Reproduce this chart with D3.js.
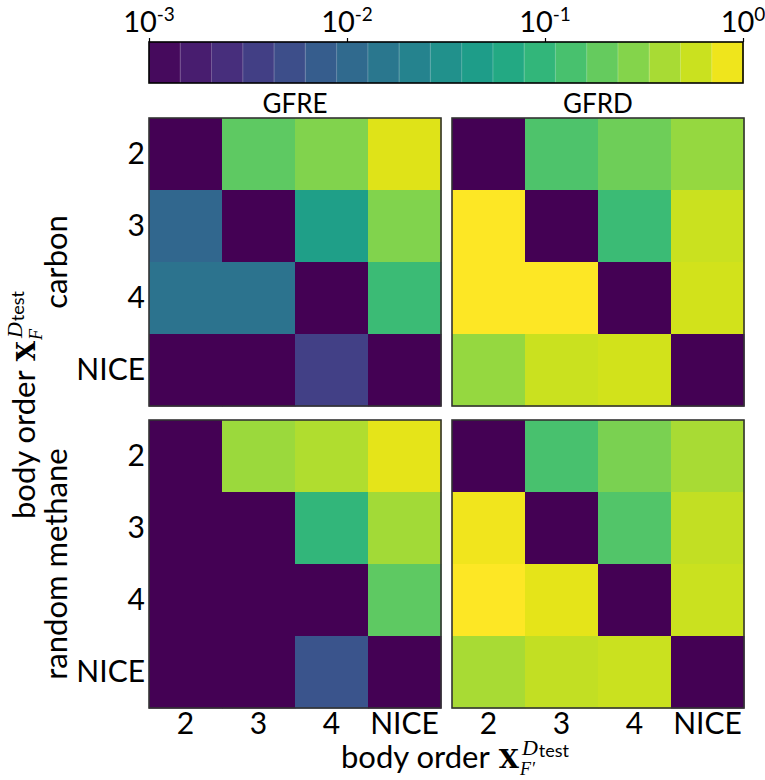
<!DOCTYPE html>
<html>
<head>
<meta charset="utf-8">
<script src="https://cdn.jsdelivr.net/npm/d3@7"></script>
<style>
    body { margin: 0; background: #fff; }
    svg { display: block; font-family: Lato, "Open Sans", sans-serif; }
</style>
</head>
<body>
<svg width="765" height="780"></svg>
<script>
// orders on both axes
var orders = ["2", "3", "4", "NICE"];
var metrics = ["GFRE", "GFRD"];
var datasets = ["carbon", "random methane"];
var cbarTicks = [1e-3, 1e-2, 1e-1, 1];
var cbarExp = ["-3", "-2", "-1", "0"];

// rows = test order, cols = F' order (0 = diagonal, below colour range)
var gfreCarbon = [
    [0, 0.178, 0.269, 0.708],
    [0.0098, 0, 0.048, 0.269],
    [0.0138, 0.0138, 0, 0.110],
    [0, 0, 0.0037, 0]
];
var gfrdCarbon = [
    [0, 0.145, 0.219, 0.331],
    [1.0, 0, 0.110, 0.575],
    [1.0, 1.0, 0, 0.617],
    [0.331, 0.575, 0.617, 0]
];
var gfreMethane = [
    [0, 0.355, 0.437, 0.759],
    [0, 0, 0.095, 0.380],
    [0, 0, 0, 0.178],
    [0, 0, 0.0060, 0]
];
var gfrdMethane = [
    [0, 0.135, 0.251, 0.407],
    [0.871, 0, 0.155, 0.537],
    [1.0, 0.759, 0, 0.575],
    [0.407, 0.537, 0.575, 0]
];

var panels = [
    {row: 0, col: 0, values: gfreCarbon},
    {row: 0, col: 1, values: gfrdCarbon},
    {row: 1, col: 0, values: gfreMethane},
    {row: 1, col: 1, values: gfrdMethane}
];

var svg = d3.select("svg");

var colX = [149, 452];
var rowY = [118, 420];
var pw = 292, ph = 288;

var norm = d3.scaleLog().domain([1e-3, 1]).range([0, 1]).clamp(true);

function cor(v) {
    if (v <= 1e-3) return d3.interpolateViridis(0);
    return d3.interpolateViridis(norm(v));
}

// ---- colorbar ----
var cbX = d3.scaleLog().domain([1e-3, 1]).range([149, 743]);
var cbTop = 42, cbH = 41;
var nBins = 19;
var gCb = svg.append("g");
var bins = d3.range(nBins);
var binW = (743 - 149) / nBins;

gCb.selectAll("rect.bin")
    .data(bins)
    .enter().append("rect")
    .attr("class", "bin")
    .attr("x", function (d) { return 149 + d * binW; })
    .attr("y", cbTop)
    .attr("width", binW + 0.5)
    .attr("height", cbH)
    .attr("fill", function (d) { return d3.interpolateViridis((d + 0.5) / nBins); });

gCb.selectAll("line.sep")
    .data(bins.slice(1))
    .enter().append("line")
    .attr("x1", function (d) { return 149 + d * binW; })
    .attr("x2", function (d) { return 149 + d * binW; })
    .attr("y1", cbTop)
    .attr("y2", cbTop + cbH)
    .attr("stroke", "#fff")
    .attr("stroke-opacity", 0.25)
    .attr("stroke-width", 1);

gCb.append("rect")
    .attr("x", 149).attr("y", cbTop)
    .attr("width", 743 - 149).attr("height", cbH)
    .attr("fill", "none").attr("stroke", "#000").attr("stroke-width", 1.6);

var cbAxis = gCb.append("g")
    .attr("transform", "translate(0," + cbTop + ")")
    .call(d3.axisTop(cbX).tickValues(cbarTicks).tickSize(4).tickFormat(""));
cbAxis.select(".domain").remove();
cbAxis.selectAll(".tick line").attr("stroke", "#000").attr("stroke-width", 1.2);

var cbLab = gCb.selectAll("text.cbl")
    .data(cbarTicks)
    .enter().append("text")
    .attr("class", "cbl")
    .attr("x", function (d) { return cbX(d); })
    .attr("y", 32)
    .attr("text-anchor", "middle")
    .style("font-size", "29px")
    .text("10");
cbLab.append("tspan")
    .attr("dy", -11)
    .style("font-size", "19px")
    .text(function (d, i) { return cbarExp[i]; });

// ---- heatmaps ----
panels.forEach(function (p) {
    var x = d3.scaleBand().domain(orders).range([0, pw]);
    var y = d3.scaleBand().domain(orders).range([0, ph]);
    var g = svg.append("g")
        .attr("transform", "translate(" + colX[p.col] + "," + rowY[p.row] + ")");

    var cells = [];
    p.values.forEach(function (r, i) {
        r.forEach(function (v, j) {
            cells.push({r: orders[i], c: orders[j], v: v});
        });
    });

    g.selectAll("rect.cell")
        .data(cells)
        .enter().append("rect")
        .attr("class", "cell")
        .attr("x", function (d) { return x(d.c); })
        .attr("y", function (d) { return y(d.r); })
        .attr("width", x.bandwidth() + 0.5)
        .attr("height", y.bandwidth() + 0.5)
        .attr("fill", function (d) { return cor(d.v); });

    g.append("rect")
        .attr("width", pw).attr("height", ph)
        .attr("fill", "none").attr("stroke", "#333").attr("stroke-width", 1.6);

    if (p.col === 0) {
        var ya = g.append("g")
            .call(d3.axisLeft(y).tickSize(0).tickPadding(4));
        ya.select(".domain").remove();
        ya.selectAll("text").attr("fill", "#000").style("font-size", "30px")
            .style("font-family", "Lato, sans-serif");
    }
    if (p.row === 1) {
        var xa = g.append("g")
            .attr("transform", "translate(0," + ph + ")")
            .call(d3.axisBottom(x).tickSize(0).tickPadding(5));
        xa.select(".domain").remove();
        xa.selectAll("text").attr("fill", "#000").style("font-size", "30px")
            .style("font-family", "Lato, sans-serif");
    }
    if (p.row === 0) {
        g.append("text")
            .attr("x", pw / 2)
            .attr("y", -5)
            .attr("text-anchor", "middle")
            .style("font-size", "26px")
            .text(metrics[p.col]);
    }
});

// dataset labels (rotated)
datasets.forEach(function (d, i) {
    svg.append("text")
        .attr("transform", "translate(67," + (rowY[i] + ph / 2) + ") rotate(-90)")
        .attr("text-anchor", "middle")
        .style("font-size", "31px")
        .text(d);
});

// "body order X_F^{D_test}" label built from pieces
function mathLabel(parent, sub) {
    var g = parent.append("g");
    var w = 0;
    var t1 = g.append("text").attr("x", 0).attr("y", 0)
        .style("font-size", "31px").text("body order");
    w += t1.node().getComputedTextLength() + 9;
    var tX = g.append("text").attr("x", w).attr("y", 0)
        .style("font-family", "'DejaVu Serif', serif").style("font-weight", "bold")
        .style("font-size", "26px").text("X");
    w += tX.node().getComputedTextLength() + 1;
    // sub- and superscript stacked in one text element
    var tM = g.append("text");
    var sF = tM.append("tspan").attr("x", w).attr("y", 7)
        .style("font-family", "'Liberation Serif', serif").style("font-style", "italic")
        .style("font-size", "18px").text(sub);
    var wF = sF.node().getComputedTextLength();
    var sD = tM.append("tspan").attr("x", w + 2).attr("y", -13)
        .style("font-family", "'Liberation Serif', serif").style("font-style", "italic")
        .style("font-size", "22px").text("D");
    var wD = sD.node().getComputedTextLength();
    var sT = tM.append("tspan").attr("x", w + 2 + wD + 1).attr("y", -11)
        .style("font-family", "Lato, sans-serif")
        .style("font-size", "18px").text("test");
    var wT = sT.node().getComputedTextLength();
    return {g: g, width: w + Math.max(wF, 2 + wD + 1 + wT)};
}

var xl = mathLabel(svg, "F\u2032");
xl.g.attr("transform", "translate(" + (455 - xl.width / 2) + ",768)");

var yl = mathLabel(svg, "F");
yl.g.attr("transform", "translate(35,405) rotate(-90) translate(" + (-yl.width / 2) + ",0)");
</script>
</body>
</html>
